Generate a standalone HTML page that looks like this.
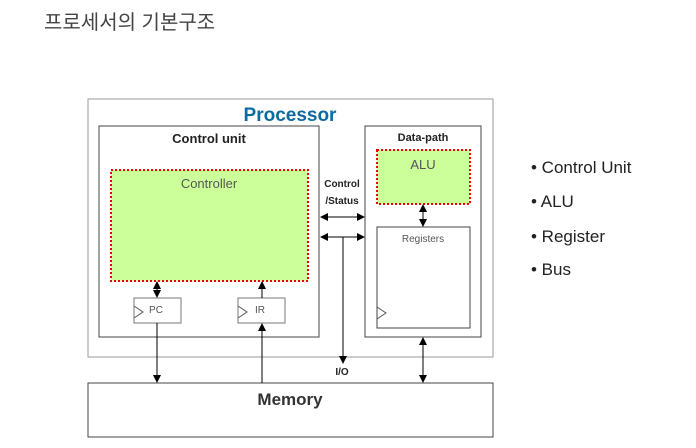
<!DOCTYPE html>
<html><head><meta charset="utf-8"><style>
body{margin:0;width:696px;height:448px;background:#fff;overflow:hidden;position:relative;font-family:"Liberation Sans","Noto Sans CJK KR",sans-serif}
.t{position:absolute;left:44px;top:6px;font-size:20px;color:#444}
.b{position:absolute;left:531px;font-size:17px;color:#222}
</style></head><body>
<div class="t">프로세서의 기본구조</div>
<div class="b" style="top:158px">• Control Unit</div>
<div class="b" style="top:192px">• ALU</div>
<div class="b" style="top:227px">• Register</div>
<div class="b" style="top:260px">• Bus</div>
<svg width="696" height="448" style="position:absolute;left:0;top:0" font-family="Liberation Sans, sans-serif">
<defs><marker id="a" markerWidth="8" markerHeight="8" refX="7" refY="4" orient="auto-start-reverse" markerUnits="userSpaceOnUse"><path d="M0,0L8,4L0,8z" fill="#000"/></marker></defs>
<rect x="88" y="99" width="405" height="258" fill="#fff" stroke="#999" stroke-width="1"/>
<text x="290" y="121" text-anchor="middle" font-size="19" font-weight="bold" fill="#0b6a9e">Processor</text>
<rect x="99" y="126" width="220" height="211" fill="#fff" stroke="#444"/>
<text x="209" y="143" text-anchor="middle" font-size="13" font-weight="bold" fill="#222">Control unit</text>
<rect x="365" y="126" width="116" height="211" fill="#fff" stroke="#444"/>
<text x="423" y="141" text-anchor="middle" font-size="11" font-weight="bold" fill="#222">Data-path</text>
<rect x="111" y="170" width="197" height="111" fill="#ccff99" stroke="#e00" stroke-width="2" stroke-dasharray="2,2"/>
<text x="209" y="188" text-anchor="middle" font-size="13" fill="#555">Controller</text>
<rect x="377" y="150" width="93" height="54" fill="#ccff99" stroke="#e00" stroke-width="2" stroke-dasharray="2,2"/>
<text x="423" y="169" text-anchor="middle" font-size="13" fill="#555">ALU</text>
<rect x="377" y="227" width="93" height="101" fill="#fff" stroke="#444"/>
<text x="423" y="242" text-anchor="middle" font-size="10" fill="#555">Registers</text>
<path d="M377,307L386,313L377,319" fill="none" stroke="#555"/>
<rect x="134" y="298" width="47" height="25" fill="#fff" stroke="#777"/>
<text x="156" y="313" text-anchor="middle" font-size="10" fill="#555">PC</text>
<path d="M134,306L143,312L134,318" fill="none" stroke="#555"/>
<rect x="238" y="298" width="47" height="25" fill="#fff" stroke="#777"/>
<text x="260" y="313" text-anchor="middle" font-size="10" fill="#555">IR</text>
<path d="M238,306L247,312L238,318" fill="none" stroke="#555"/>
<rect x="88" y="383" width="405" height="54" fill="#fff" stroke="#444"/>
<text x="290" y="405" text-anchor="middle" font-size="17" font-weight="bold" fill="#333">Memory</text>
<text x="342" y="187" text-anchor="middle" font-size="10" font-weight="bold" fill="#222">Control</text>
<text x="342" y="204" text-anchor="middle" font-size="10" font-weight="bold" fill="#222">/Status</text>
<text x="342" y="375" text-anchor="middle" font-size="10" font-weight="bold" fill="#222">I/O</text>
<g stroke="#000" stroke-width="1" fill="none">
<line x1="321" y1="217" x2="364" y2="217" marker-start="url(#a)" marker-end="url(#a)"/>
<line x1="321" y1="237" x2="364" y2="237" marker-start="url(#a)" marker-end="url(#a)"/>
<line x1="343" y1="237" x2="343" y2="363" marker-end="url(#a)"/>
<line x1="157" y1="282" x2="157" y2="297" marker-start="url(#a)" marker-end="url(#a)"/>
<line x1="262" y1="298" x2="262" y2="282" marker-end="url(#a)"/>
<line x1="157" y1="323" x2="157" y2="382" marker-end="url(#a)"/>
<line x1="262" y1="383" x2="262" y2="324" marker-end="url(#a)"/>
<line x1="423" y1="205" x2="423" y2="226" marker-start="url(#a)" marker-end="url(#a)"/>
<line x1="423" y1="338" x2="423" y2="382" marker-start="url(#a)" marker-end="url(#a)"/>
</g>
</svg>
</body></html>
